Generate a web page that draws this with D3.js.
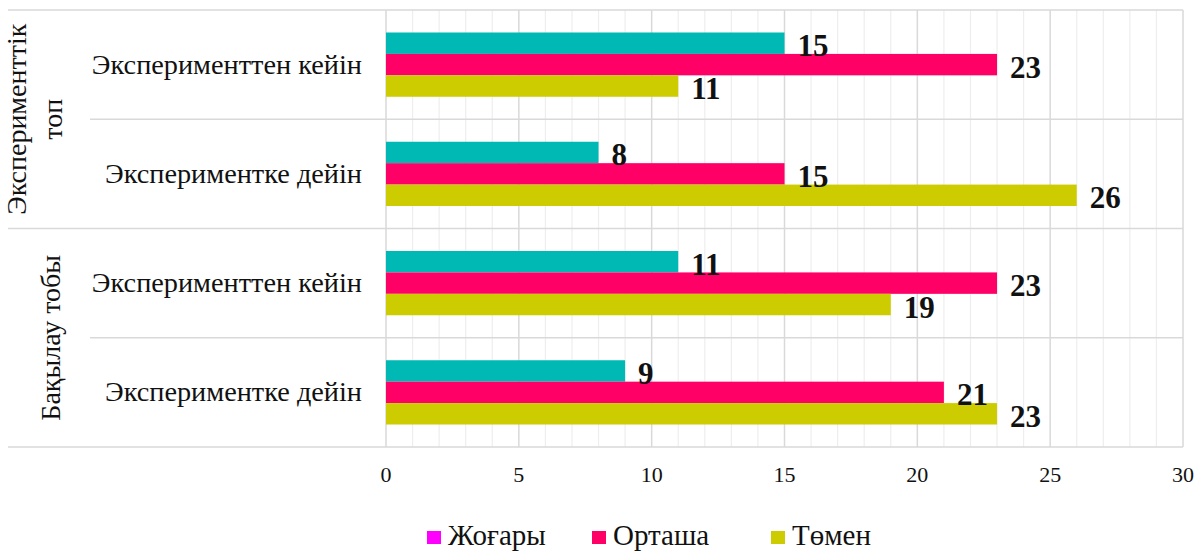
<!DOCTYPE html>
<html>
<head>
<meta charset="utf-8">
<script src="https://cdn.jsdelivr.net/npm/d3@7/dist/d3.min.js"></script>
<style>
  html, body { margin: 0; padding: 0; background: #fff; }
  svg { display: block; }
  text { font-family: "Liberation Serif", "Times New Roman", serif; fill: #111; }
</style>
</head>
<body>
<svg id="chart" width="1197" height="551"></svg>
<script>
// Row categories, top to bottom, with their outer group
const categories = [
  "Эксп. топ / кейін",
  "Эксп. топ / дейін",
  "Бақылау / кейін",
  "Бақылау / дейін"
];
const categoryLabels = [
  "Эксперименттен кейін",
  "Экспериментке дейін",
  "Эксперименттен кейін",
  "Экспериментке дейін"
];
const groupNames = [["Эксперименттік", "топ"], ["Бақылау тобы"]];
const groupRows = [[0, 1], [2, 3]];

// Series (levels) and their values per row
const seriesNames = ["Жоғары", "Орташа", "Төмен"];
const highValues = [15, 8, 11, 9];
const midValues = [23, 15, 23, 21];
const lowValues = [11, 26, 19, 23];
const seriesValues = [highValues, midValues, lowValues];

const barColors = ["#00b9b5", "#ff0066", "#cccc00"];
const legendColors = ["#ff00ff", "#ff0066", "#cccc00"];

const xTicks = [0, 5, 10, 15, 20, 25, 30];

const svg = d3.select("#chart");
const plot = { left: 386, right: 1183, top: 10, bottom: 447 };

const x = d3.scaleLinear().domain([0, 30]).range([plot.left, plot.right]);
const y0 = d3.scaleBand().domain(categories).range([plot.top, plot.bottom]);
const y1 = d3.scaleBand().domain(seriesNames).range([0, y0.bandwidth()]).paddingOuter(1.05);

// Minor and major vertical gridlines
const grid = svg.append("g");
grid.selectAll("line.minor")
  .data(d3.range(0, 31, 1).filter(v => v % 5 !== 0))
  .join("line")
  .attr("x1", d => x(d)).attr("x2", d => x(d))
  .attr("y1", plot.top).attr("y2", plot.bottom)
  .attr("stroke", "#eeeeee").attr("stroke-width", 1.2);
grid.selectAll("line.major")
  .data(xTicks)
  .join("line")
  .attr("x1", d => x(d)).attr("x2", d => x(d))
  .attr("y1", plot.top).attr("y2", plot.bottom)
  .attr("stroke", "#d9d9d9").attr("stroke-width", 1.5);

// Horizontal category boundaries
const rowEdges = categories.map(c => y0(c)).concat([plot.bottom]);
grid.selectAll("line.row")
  .data(rowEdges)
  .join("line")
  .attr("x1", (d, i) => (i % 2 === 0 ? 8 : 90))
  .attr("x2", plot.right)
  .attr("y1", d => d).attr("y2", d => d)
  .attr("stroke", "#d9d9d9").attr("stroke-width", 1.5);

// Bars
const rows = svg.append("g").selectAll("g")
  .data(categories)
  .join("g")
  .attr("transform", c => `translate(0,${y0(c)})`);

rows.selectAll("rect")
  .data((c, i) => seriesNames.map((s, k) => ({ s, v: seriesValues[k][i], k })))
  .join("rect")
  .attr("x", x(0))
  .attr("y", d => y1(d.s))
  .attr("width", d => x(d.v) - x(0))
  .attr("height", y1.bandwidth())
  .attr("fill", d => barColors[d.k]);

rows.selectAll("text.val")
  .data((c, i) => seriesNames.map((s, k) => ({ s, v: seriesValues[k][i], k })))
  .join("text")
  .attr("class", "val")
  .attr("x", d => x(d.v) + 13)
  .attr("y", d => y1(d.s) + y1.bandwidth() / 2 + 13)
  .attr("font-size", 31)
  .attr("font-weight", "bold")
  .text(d => d.v);

// Category labels
svg.append("g").selectAll("text")
  .data(categories)
  .join("text")
  .attr("x", 362)
  .attr("y", c => y0(c) + y0.bandwidth() / 2 + 9)
  .attr("text-anchor", "end")
  .attr("font-size", 28.3)
  .text((c, i) => categoryLabels[i]);

// Group labels, rotated
groupNames.forEach((lines, g) => {
  const rs = groupRows[g];
  const cy = (y0(categories[rs[0]]) + y0(categories[rs[rs.length - 1]]) + y0.bandwidth()) / 2;
  const cx = g === 0 ? 35 : 51;
  const t = svg.append("text")
    .attr("transform", `translate(${cx},${cy}) rotate(-90)`)
    .attr("text-anchor", "middle")
    .attr("font-size", 28);
  const lh = 36;
  lines.forEach((ln, j) => {
    t.append("tspan")
      .attr("x", 0)
      .attr("y", (j - (lines.length - 1) / 2) * lh + 9)
      .text(ln);
  });
});

// X axis tick labels
svg.append("g").selectAll("text")
  .data(xTicks)
  .join("text")
  .attr("x", d => x(d))
  .attr("y", 482)
  .attr("text-anchor", "middle")
  .attr("font-size", 22)
  .text(d => d);

// Legend
const legendX = [427, 592, 771];
const legend = svg.append("g").selectAll("g")
  .data(seriesNames)
  .join("g")
  .attr("transform", (d, i) => `translate(${legendX[i]},531)`);
legend.append("rect")
  .attr("width", 14).attr("height", 13)
  .attr("fill", (d, i) => legendColors[i]);
legend.append("text")
  .attr("x", 21).attr("y", 14)
  .attr("font-size", 29)
  .text(d => d);
</script>
</body>
</html>
